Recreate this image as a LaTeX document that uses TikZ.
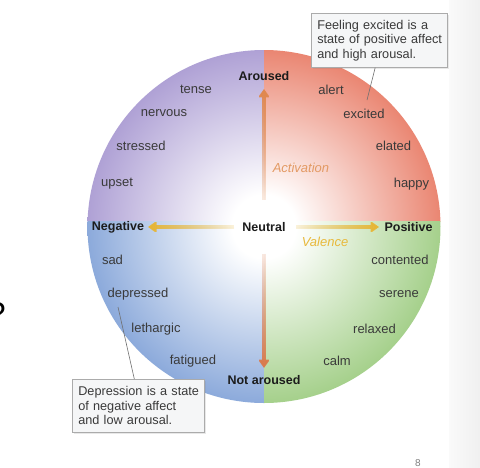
\documentclass[tikz,border=0pt]{standalone}
\usepackage{fontspec}
\setmainfont{Liberation Sans}
\usetikzlibrary{arrows.meta,shadows,fadings,calc}
\definecolor{cTL}{HTML}{AFA1D5}
\definecolor{cTR}{HTML}{EA8672}
\definecolor{cBL}{HTML}{8CAADB}
\definecolor{cBR}{HTML}{A5D08B}
\definecolor{wordc}{HTML}{3A3A3A}
\definecolor{axisc}{HTML}{1C1C1C}
\definecolor{actc}{HTML}{E39A64}
\definecolor{valc}{HTML}{E8B93C}
\definecolor{uparr}{HTML}{E0884E}
\definecolor{dnarr}{HTML}{DA7A4C}
\definecolor{hzarr}{HTML}{E7B534}
\definecolor{boxc}{HTML}{ABABAB}
\definecolor{boxfill}{HTML}{F5F6F7}
\definecolor{linec}{HTML}{707070}
\pgfdeclareradialshading{qTL}{\pgfpoint{0bp}{0bp}}{color(0bp)=(white); color(4.5bp)=(white); color(25bp)=(cTL); color(50bp)=(cTL)}
\pgfdeclareradialshading{qTR}{\pgfpoint{0bp}{0bp}}{color(0bp)=(white); color(4.5bp)=(white); color(25bp)=(cTR); color(50bp)=(cTR)}
\pgfdeclareradialshading{qBL}{\pgfpoint{0bp}{0bp}}{color(0bp)=(white); color(4.5bp)=(white); color(25bp)=(cBL); color(50bp)=(cBL)}
\pgfdeclareradialshading{qBR}{\pgfpoint{0bp}{0bp}}{color(0bp)=(white); color(4.5bp)=(white); color(25bp)=(cBR); color(50bp)=(cBR)}
\tikzfading[name=fadeE, left color=transparent!85, right color=transparent!0]
\tikzfading[name=fadeW, left color=transparent!0, right color=transparent!85]
\tikzfading[name=fadeN, top color=transparent!0, bottom color=transparent!85]
\tikzfading[name=fadeS, top color=transparent!85, bottom color=transparent!0]
\tikzset{
  word/.style={font=\fontsize{13}{15}\selectfont, text=wordc, inner sep=0pt},
  axislbl/.style={font=\fontsize{12.5}{15}\selectfont\bfseries, text=axisc, inner sep=0pt},
  dimlbl/.style={font=\fontsize{13}{15}\selectfont\itshape, inner sep=0pt},
  callout/.style={draw=boxc, fill=boxfill, line width=0.6pt, font=\fontsize{12.7}{14.5}\selectfont,
    text=wordc, align=left, inner xsep=6pt, inner ysep=6pt,
    drop shadow={opacity=0.18, shadow xshift=1.2pt, shadow yshift=-1.2pt}},
  pointer/.style={draw=linec, line width=0.6pt},
  axisarrow/.style={line width=4.5pt, -{Triangle[length=8.5pt,width=11.5pt]}},
}
\begin{document}
\begin{tikzpicture}[x=1pt,y=-1pt]
\useasboundingbox (0,0) rectangle (480,467);
\fill[white] (0,0) rectangle (480,467);
\shade[left color=black!2, right color=black!6] (449,0) rectangle (480,467);
% quadrants
\coordinate (C) at (264,226.5);
\begin{scope}
  \clip (264,221) rectangle (60,30);
  \path[shading=qTL] (C) circle[radius=176.5pt];
\end{scope}
\begin{scope}
  \clip (264,221) rectangle (460,30);
  \path[shading=qTR] (C) circle[radius=176.5pt];
\end{scope}
\begin{scope}
  \clip (264,221) rectangle (60,420);
  \path[shading=qBL] (C) circle[radius=176.5pt];
\end{scope}
\begin{scope}
  \clip (264,221) rectangle (460,420);
  \path[shading=qBR] (C) circle[radius=176.5pt];
\end{scope}
% axis labels
\node[axislbl] (aroused) at (264,76) {Aroused};
\node[axislbl] (notaroused) at (264,380) {Not aroused};
\node[axislbl] (negative) at (118,227) {Negative};
\node[axislbl] (positive) at (408.5,227) {Positive};
\node[axislbl] (neutral) at (264,227) {Neutral};
\node[dimlbl, text=actc] (activation) at (301,168) {Activation};
\node[dimlbl, text=valc] (valence) at (325,242) {Valence};
% arrows
\coordinate (upS) at (264,200);
\coordinate (upE) at (264,89);
\coordinate (dnS) at (264,254);
\coordinate (dnE) at (264,368);
\coordinate (lfS) at (234,227);
\coordinate (lfE) at (148,227);
\coordinate (rtS) at (296,227);
\coordinate (rtE) at (379,227);
\draw[axisarrow, draw=uparr, fill=uparr, path fading=fadeN] (upS) -- (upE);
\draw[axisarrow, draw=dnarr, fill=dnarr, path fading=fadeS] (dnS) -- (dnE);
\draw[axisarrow, draw=hzarr, fill=hzarr, path fading=fadeW] (lfS) -- (lfE);
\draw[axisarrow, draw=hzarr, fill=hzarr, path fading=fadeE] (rtS) -- (rtE);
% words
\node[word] (tense) at (196,89.5) {tense};
\node[word] (alert) at (331,89.5) {alert};
\node[word] (nervous) at (164,113.5) {nervous};
\node[word] (excited) at (364,113.5) {excited};
\node[word] (stressed) at (141,146) {stressed};
\node[word] (elated) at (393.5,146) {elated};
\node[word] (upset) at (117,184) {upset};
\node[word] (happy) at (411.5,184) {happy};
\node[word] (sad) at (112.5,260) {sad};
\node[word] (contented) at (400,260) {contented};
\node[word] (depressed) at (138,294) {depressed};
\node[word] (serene) at (399,294) {serene};
\node[word] (lethargic) at (156,329) {lethargic};
\node[word] (relaxed) at (374.5,329) {relaxed};
\node[word] (fatigued) at (193,361) {fatigued};
\node[word] (calm) at (337,361) {calm};
% callouts
\node[callout, anchor=north west, text width=124pt, minimum width=136pt, minimum height=54pt] (box1) at (311,13)
  {\mbox{Feeling excited is a}\\\mbox{state of positive affect}\\\mbox{and high arousal.}};
\node[callout, anchor=north west, text width=120pt, minimum width=132pt, minimum height=53pt] (box2) at (72,379)
  {\mbox{Depression is a state}\\\mbox{of negative affect}\\\mbox{and low arousal.}};
\coordinate (p1) at (367,100);
\coordinate (p2) at (118,307);
\draw[pointer] ($(box1.south west)!0.47!(box1.south east)$) -- (p1);
\draw[pointer] (p2) -- ($(box2.north west)!0.47!(box2.north east)$);
% stray page marks
\node[font=\fontsize{33}{33}\selectfont, text=black, inner sep=0pt, anchor=base east] (qmark) at (6,325) {?};
\node[font=\fontsize{10}{10}\selectfont, text=gray, inner sep=0pt] (pagenum) at (418,463) {8};
\end{tikzpicture}
\end{document}
